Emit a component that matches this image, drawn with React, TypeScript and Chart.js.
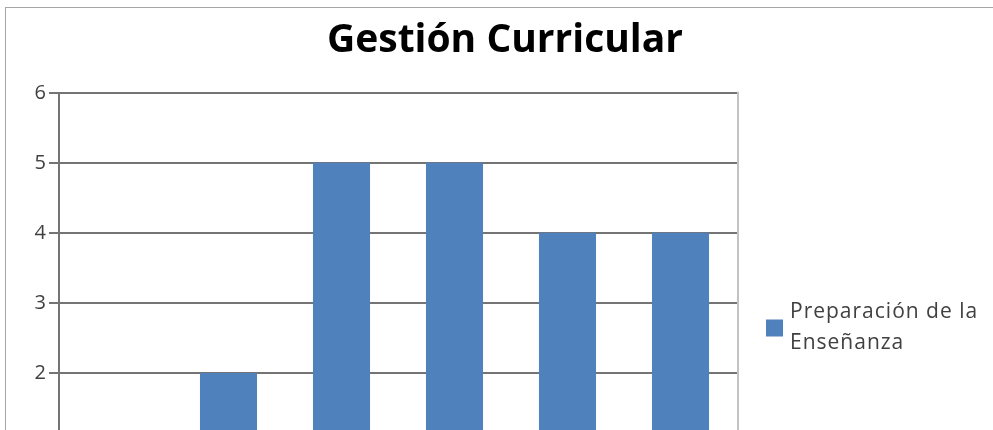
import React, { useEffect, useRef } from "react";
import { Chart, registerables } from "chart.js";

Chart.register(...registerables);

const titleText = "Gestión Curricular";
const categories = ["1", "2", "3", "4", "5", "6"];
const seriesLabel = "Preparación de la Enseñanza";
const seriesValues = [1, 2, 5, 5, 4, 4];
const yMin = 0;
const yMax = 6;
const yStep = 1;

const FONT = "'Open Sans'";
const BAR_COLOR = "#4F81BD";
const GRID_COLOR = "#747474";
const CANVAS_W = 998;
const CANVAS_H = 640;

const plotBorder = {
  id: "plotBorder",
  beforeDatasetsDraw(chart: any) {
    const { ctx, chartArea } = chart;
    ctx.save();
    ctx.strokeStyle = "#c3c3c3";
    ctx.lineWidth = 2;
    ctx.beginPath();
    ctx.moveTo(chartArea.right + 1, chartArea.top - 1);
    ctx.lineTo(chartArea.right + 1, chartArea.bottom);
    ctx.stroke();
    ctx.restore();
  },
};

const sideLegend = {
  id: "sideLegend",
  afterDraw(chart: any) {
    const { ctx, chartArea } = chart;
    const ds = chart.data.datasets[0];
    ctx.save();
    ctx.font = `21px ${FONT}`;
    (ctx as any).letterSpacing = "1px";
    const x = chartArea.right + 29;
    const box = 17;
    const textX = x + box + 7;
    const maxW = chart.width - textX - 4;
    const words = String(ds.label).split(" ");
    const lines: string[] = [];
    let cur = "";
    for (const w of words) {
      const t = cur ? cur + " " + w : w;
      if (cur && ctx.measureText(t).width > maxW) {
        lines.push(cur);
        cur = w;
      } else cur = t;
    }
    if (cur) lines.push(cur);
    const lh = 31;
    const cy = chart.height / 2;
    ctx.fillStyle = ds.backgroundColor;
    ctx.fillRect(x, cy - box / 2, box, box);
    ctx.fillStyle = "#404040";
    ctx.textBaseline = "middle";
    ctx.textAlign = "left";
    lines.forEach((l, i) => ctx.fillText(l, textX, cy + (i - (lines.length - 1) / 2) * lh));
    ctx.restore();
  },
};

export default function App() {
  const ref = useRef<HTMLCanvasElement>(null);
  useEffect(() => {
    if (!ref.current) return;
    const chart = new Chart(ref.current, {
      type: "bar",
      data: {
        labels: categories,
        datasets: [
          {
            label: seriesLabel,
            data: seriesValues,
            backgroundColor: BAR_COLOR,
            borderWidth: 0,
            barPercentage: 0.505,
            categoryPercentage: 1,
            yAxisID: "y",
          },
        ],
      },
      options: {
        responsive: false,
        animation: false,
        layout: { padding: 0 },
        plugins: {
          legend: { display: false },
          tooltip: { enabled: false },
          title: {
            display: true,
            text: titleText,
            color: "#000",
            font: { family: FONT, size: 39, weight: "bold" },
            padding: { top: 9, bottom: 29 },
          },
        },
        scales: {
          x: {
            grid: { display: false },
            border: { color: GRID_COLOR, width: 2 },
            ticks: { font: { family: FONT, size: 20 }, color: "#404040" },
            afterFit: (s: any) => {
              s.height = CANVAS_H - 505;
            },
          },
          y: {
            min: yMin,
            max: yMax,
            ticks: {
              stepSize: yStep,
              font: { family: FONT, size: 20 },
              color: "#404040",
              padding: 3,
            },
            grid: { color: GRID_COLOR, lineWidth: 2, tickLength: 10 },
            border: { color: GRID_COLOR, width: 2 },
            afterFit: (s: any) => {
              s.width = 53;
            },
          },
          legendSpace: {
            position: "right",
            display: true,
            min: yMin,
            max: yMax,
            grid: { display: false, drawTicks: false },
            border: { display: false },
            ticks: { display: false },
            afterFit: (s: any) => {
              s.width = 267;
            },
          },
        },
      },
      plugins: [plotBorder, sideLegend],
    });
    return () => chart.destroy();
  }, []);

  return (
    <div
      style={{
        position: "fixed",
        left: 0,
        top: 0,
        width: 993,
        height: 430,
        overflow: "hidden",
        background: "#fff",
      }}
    >
      <div
        style={{
          position: "absolute",
          left: 5,
          top: 7,
          width: CANVAS_W + 2,
          height: CANVAS_H + 2,
          border: "1px solid #a6a6a6",
          boxSizing: "border-box",
        }}
      >
        <canvas ref={ref} width={CANVAS_W} height={CANVAS_H} style={{ display: "block" }} />
      </div>
    </div>
  );
}
